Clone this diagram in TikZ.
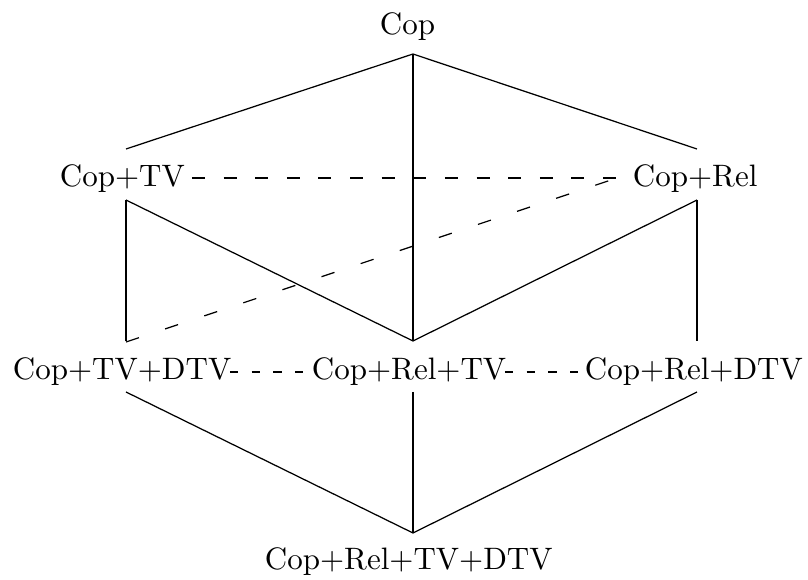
\documentclass[tikz,border=0pt]{standalone}
\begin{document}
\begin{tikzpicture}[x=0.32258pt, y=-0.32258pt,
  lbl/.style={anchor=base west, inner sep=0pt, outer sep=0pt},
  edge/.style={line width=0.4pt},
  vedge/.style={line width=0.65pt},
  hdash/.style={line width=0.65pt, dash pattern=on 4.2pt off 6pt},
  ddash/.style={line width=0.4pt, dash pattern=on 4.4pt off 8.9pt},
  bdash/.style={line width=0.6pt, dash pattern=on 2.7pt off 4.3pt}]
\useasboundingbox (0,0) rectangle (808,580);

% labels
\node[lbl] (cop)    at (380,35)  {Cop};
\node[lbl] (tv)     at (60,187)  {Cop+TV};
\node[lbl] (rel)    at (633,187) {Cop+Rel};
\node[lbl] (tvdtv)  at (13,380)  {Cop+TV+DTV};
\node[lbl] (reltv)  at (312,380) {Cop+Rel+TV};
\node[lbl] (reldtv) at (585,380) {Cop+Rel+DTV};
\node[lbl] (all)    at (265,570) {Cop+Rel+TV+DTV};

% attachment points of the connectors
\coordinate (cop-s)    at (413,54);
\coordinate (tv-n)     at (126,149);
\coordinate (tv-s)     at (126,200);
\coordinate (tv-e)     at (192,178);
\coordinate (rel-n)    at (697,149);
\coordinate (rel-s)    at (697,200);
\coordinate (rel-w)    at (620,178);
\coordinate (rel-wd)   at (620,177);
\coordinate (tvdtv-n)  at (126,341);
\coordinate (tvdtv-nd) at (126,342);
\coordinate (tvdtv-s)  at (126,392);
\coordinate (tvdtv-e)  at (230,372);
\coordinate (reltv-n)  at (413,341);
\coordinate (reltv-s)  at (413,392);
\coordinate (reltv-w)  at (305,372);
\coordinate (reltv-e)  at (505,372);
\coordinate (reldtv-n) at (697,341);
\coordinate (reldtv-s) at (697,392);
\coordinate (reldtv-w) at (578,372);
\coordinate (all-n)    at (413,533);

% top level
\draw[edge]  (cop-s) -- (tv-n);
\draw[edge]  (cop-s) -- (rel-n);
\draw[vedge] (cop-s) -- (reltv-n);
\draw[hdash] (tv-e) -- (rel-w);

% middle level
\draw[vedge] (tv-s) -- (tvdtv-n);
\draw[edge]  (tv-s) -- (reltv-n);
\draw[vedge] (rel-s) -- (reldtv-n);
\draw[edge]  (rel-s) -- (reltv-n);
\draw[ddash] (tvdtv-nd) -- (rel-wd);

% bottom level
\draw[bdash] (tvdtv-e) -- (reltv-w);
\draw[bdash] (reltv-e) -- (reldtv-w);
\draw[edge]  (tvdtv-s) -- (all-n);
\draw[edge]  (reldtv-s) -- (all-n);
\draw[vedge] (reltv-s) -- (all-n);
\end{tikzpicture}
\end{document}
